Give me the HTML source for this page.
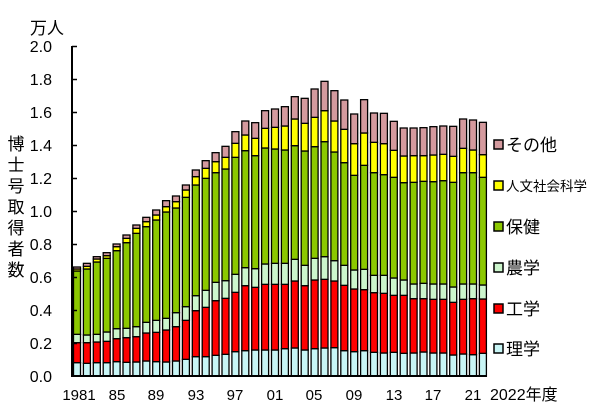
<!DOCTYPE html>
<html><head><meta charset="utf-8"><style>
html,body{margin:0;padding:0;background:#fff;}
svg{display:block;font-family:"Liberation Sans","Noto Sans CJK JP",sans-serif;}
</style></head><body>
<svg id="s" width="600" height="404" viewBox="0 0 600 404" xmlns="http://www.w3.org/2000/svg">
<g id="bars"></g>
<line x1="72" y1="46" x2="72" y2="376" stroke="#000" stroke-width="2"/>
<line x1="71" y1="376" x2="487" y2="376" stroke="#000" stroke-width="2"/>
<g stroke="#000" stroke-width="1.5">
<line x1="72" y1="46.5" x2="77" y2="46.5"/><line x1="72" y1="79.5" x2="77" y2="79.5"/><line x1="72" y1="112.5" x2="77" y2="112.5"/><line x1="72" y1="145.5" x2="77" y2="145.5"/><line x1="72" y1="178.5" x2="77" y2="178.5"/><line x1="72" y1="211.5" x2="77" y2="211.5"/><line x1="72" y1="244.5" x2="77" y2="244.5"/><line x1="72" y1="277.5" x2="77" y2="277.5"/><line x1="72" y1="310.5" x2="77" y2="310.5"/><line x1="72" y1="343.5" x2="77" y2="343.5"/>
</g>
<g font-size="16" text-anchor="end" fill="#000">
<text x="52" y="52">2.0</text><text x="52" y="85">1.8</text><text x="52" y="118">1.6</text><text x="52" y="151">1.4</text><text x="52" y="184">1.2</text><text x="52" y="217">1.0</text><text x="52" y="250">0.8</text><text x="52" y="283">0.6</text><text x="52" y="316">0.4</text><text x="52" y="349">0.2</text><text x="52" y="382">0.0</text>
</g>
<text x="30" y="34" font-size="17">万人</text>
<g font-size="17" text-anchor="middle">
<text x="16" y="150">博</text><text x="16" y="171">士</text><text x="16" y="192">号</text><text x="16" y="213">取</text><text x="16" y="234">得</text><text x="16" y="255">者</text><text x="16" y="276">数</text>
</g>
<g font-size="15" text-anchor="middle">
<text x="79" y="400">1981</text><text x="117" y="400">85</text><text x="156" y="400">89</text><text x="196" y="400">93</text><text x="235" y="400">97</text><text x="275" y="400">01</text><text x="314" y="400">05</text><text x="354" y="400">09</text><text x="394" y="400">13</text><text x="433" y="400">17</text><text x="473" y="400">21</text>
</g>
<text x="490" y="400" font-size="16">2022年度</text>
<g stroke="#000" stroke-width="1.5">
<rect x="494" y="140" width="9" height="9" fill="#d49a9e"/>
<rect x="494" y="181" width="9" height="9" fill="#ffff00"/>
<rect x="494" y="222" width="9" height="9" fill="#8cc800"/>
<rect x="494" y="263" width="9" height="9" fill="#ccf5cc"/>
<rect x="494" y="304" width="9" height="9" fill="#ff0000"/>
<rect x="494" y="344" width="9" height="9" fill="#c8f5f5"/>
</g>
<g font-size="17">
<text x="506" y="151">その他</text>
<text x="506" y="191" font-size="13.5">人文社会科学</text>
<text x="506" y="233">保健</text>
<text x="506" y="274">農学</text>
<text x="506" y="315">工学</text>
<text x="506" y="355">理学</text>
</g>
</svg>
<script>
var z=[
[878,818,793,603,597,591],[880,818,795,597,589,580],[878,816,793,576,567,560],[878,814,786,565,557,548],
[875,806,776,542,530,522],[877,803,775,518,505,495],[876,800,770,490,475,465],[873,789,757,470,455,442],
[875,787,751,450,435,420],[876,780,745,426,410,392],[873,770,728,414,395,378],[868,751,710,382,360,345],
[860,722,677,345,320,300],[860,712,661,325,295,272],[856,692,637,308,275,248],[853,685,632,297,262,229],
[845,667,613,262,220,185],[842,647,593,242,195,153],[840,652,596,257,205,158],[840,643,582,234,175,122],
[840,643,580,237,172,117],
[836,643,580,240,168,110],[834,633,568,227,147,80],[840,647,586,243,160,85],[836,630,565,230,142,57],
[834,628,560,215,122,34],[833,633,572,246,153,62],[842,646,586,278,178,90],[845,657,600,316,221,132],
[842,659,598,286,189,89],[847,668,616,308,217,129],[849,670,616,314,221,130],[847,676,624,322,241,154],
[850,676,630,338,258,174],[849,686,642,337,257,174],[846,686,640,334,257,173],[849,688,642,335,255,170],
[849,688,642,332,253,168],[855,697,651,337,259,169],[852,688,642,308,235,147],[854,686,642,308,240,150],
[850,687,645,322,254,157]];
var cols=["#c8f5f5","#ff0000","#ccf5cc","#8cc800","#ffff00","#d49a9e"];
var g=document.getElementById("bars"),h="";
for(var i=0;i<z.length;i++){
 var x=73.5+i*9.9,prev=376;
 var top=70+z[i][5]/3;
 h+='<rect x="'+(x+2)+'" y="'+(top+2)+'" width="7" height="'+(376-top-2)+'" fill="#bbb"/>';
 for(var k=0;k<6;k++){
  var y=70+z[i][k]/3;
  h+='<rect x="'+x+'" y="'+y+'" width="7" height="'+(prev-y)+'" fill="'+cols[k]+'" stroke="#000" stroke-width="1.3"/>';
  prev=y;
 }
}
g.innerHTML=h;
</script>
</body></html>
